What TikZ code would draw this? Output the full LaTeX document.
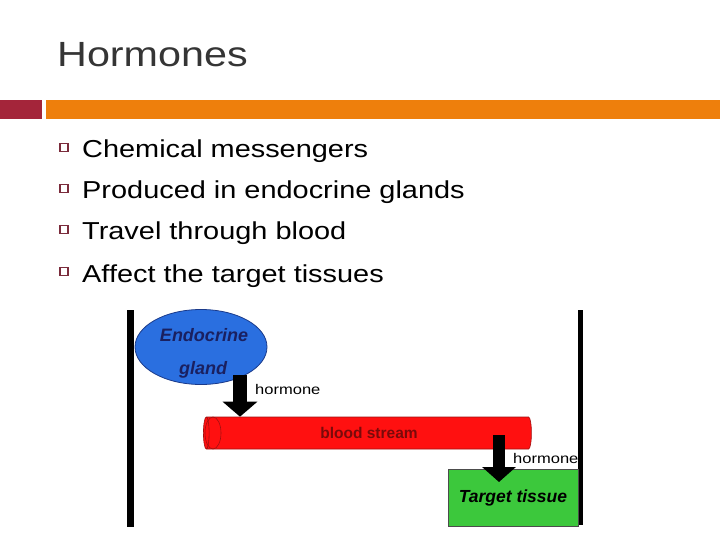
\documentclass[tikz,border=0pt]{standalone}
\usepackage{fontspec}
\setmainfont{Liberation Sans}
\newfontfamily\slidefont[FakeStretch=1.18]{Liberation Sans}
\newfontfamily\figfont{Liberation Sans}
\usetikzlibrary{shapes.geometric,arrows.meta}
\definecolor{titlegray}{HTML}{353535}
\definecolor{barred}{HTML}{A4253A}
\definecolor{barorange}{HTML}{EE7F0C}
\definecolor{bulletred}{HTML}{7B2C3C}
\definecolor{glandblue}{HTML}{2A6FE0}
\definecolor{glandline}{HTML}{1A3A8A}
\definecolor{glandtext}{HTML}{1A2060}
\definecolor{streamred}{HTML}{FF1010}
\definecolor{streamline}{HTML}{A01010}
\definecolor{streamtext}{HTML}{7A0A0A}
\definecolor{tissuegreen}{HTML}{3CC83C}
\tikzset{
  bulletbox/.style={draw=bulletred,line width=1.4pt,minimum size=8pt,inner sep=0pt},
  itemtext/.style={anchor=base west,inner sep=0pt,font=\slidefont\fontsize{24.5}{29}\selectfont},
  bigarrow/.style={line width=14pt,-{Triangle[width=34pt,length=15pt]}},
  hormonetext/.style={anchor=west,inner sep=0pt,font=\slidefont\fontsize{14}{16}\selectfont}
}
\begin{document}
\begin{tikzpicture}[x=1pt,y=-1pt]
\useasboundingbox (0,0) rectangle (720,540);
%Title
\node[anchor=base west,inner sep=0pt,text=titlegray,font=\slidefont\fontsize{35}{40}\selectfont] (title) at (57,67) {Hormones};
%Bars
\fill[barred] (0,100) rectangle (42,119);
\fill[barorange] (46,100) rectangle (720,119);

%Bullets
\foreach \y/\txt [count=\i] in {158/Chemical messengers,199/Produced in endocrine glands,240/Travel through blood,282/Affect the target tissues}{
  \node[bulletbox] (b\i) at (64,\y-10.5) {};
  \node[itemtext] (t\i) at (82,\y) {\txt};
}

%Side lines
\fill (127,310) rectangle (134,527);
\fill (578,310) rectangle (583,525);

%Gland
\node[ellipse,draw=glandline,fill=glandblue,line width=0.8pt,minimum width=132pt,minimum height=75pt] (gland) at (201,347) {};
\node[text=glandtext,font=\figfont\bfseries\itshape\fontsize{18}{20}\selectfont] (endo) at (204,335) {Endocrine};
\node[text=glandtext,font=\figfont\bfseries\itshape\fontsize{18}{20}\selectfont] (gl) at (203,370) {gland};

%Blood stream
\node[cylinder,shape border rotate=180,aspect=0.5,draw=streamline,fill=streamred,line width=0.6pt,
  minimum width=32pt,minimum height=328pt,inner sep=0pt,text=streamtext,
  font=\figfont\bfseries\fontsize{15.5}{17}\selectfont] (stream) at (369,433) {blood stream};
\draw[streamline,line width=0.6pt] (213,433) ellipse [x radius=8,y radius=16];

%Target tissue
\node[draw=black!70,fill=tissuegreen,line width=0.8pt,minimum width=130pt,minimum height=57pt,inner sep=0pt,
  font=\figfont\bfseries\itshape\fontsize{17.5}{19}\selectfont] (target) at (513,497.5) {Target tissue};

%Arrows
\coordinate (h1) at (240,375);
\draw[bigarrow] (h1) -- (h1 |- stream.north);
\node[hormonetext] (hl1) at (255,389) {hormone};
\coordinate (h2) at (499,435);
\coordinate (h2end) at (499,482);
\draw[line width=12pt,-{Triangle[width=33pt,length=15pt]}] (h2) -- (h2end);
\node[hormonetext] (hl2) at (513,458) {hormone};
\end{tikzpicture}
\end{document}
